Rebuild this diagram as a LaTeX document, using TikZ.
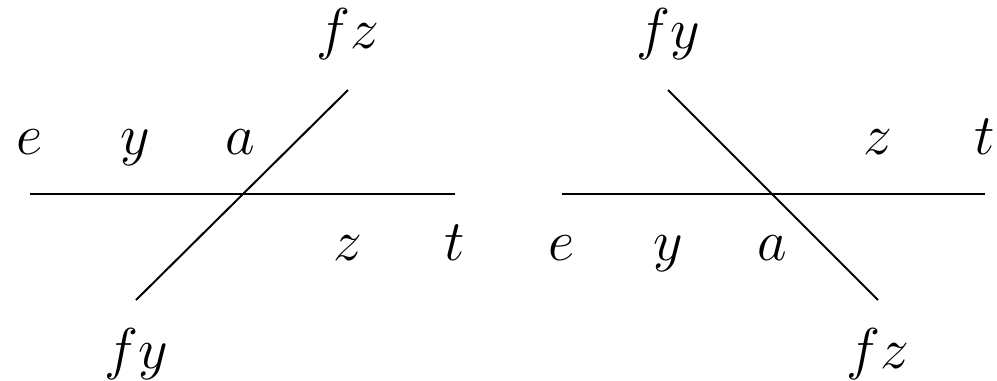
\documentclass[tikz,border=0pt]{standalone}
\begin{document}
\begin{tikzpicture}[x=0.25pt,y=-0.25pt,
  lab/.style={inner sep=0pt,anchor=base,font=\fontsize{13.5}{16}\selectfont},
  ln/.style={line width=0.5pt}]
\useasboundingbox (0,0) rectangle (997,380);
% left diagram
\coordinate (L1) at (30,194); \coordinate (L2) at (455,194);
\coordinate (D1) at (348,90); \coordinate (D2) at (136,300);
\draw[ln] (L1) -- (L2);
\draw[ln] (D1) -- (D2);
\node[lab] (le) at (30,154) {$e$};
\node[lab] (ly) at (135,154) {$y$};
\node[lab] (la) at (240,154) {$a$};
\node[lab] (lfz) at (348,48) {$fz$};
\node[lab] (lz) at (348,260) {$z$};
\node[lab] (lt) at (455,260) {$t$};
\node[lab] (lfy) at (136,368) {$fy$};
% right diagram
\coordinate (R1) at (562,194); \coordinate (R2) at (985,194);
\coordinate (E1) at (668,90); \coordinate (E2) at (878,300);
\draw[ln] (R1) -- (R2);
\draw[ln] (E1) -- (E2);
\node[lab] (rfy) at (668,48) {$fy$};
\node[lab] (rz) at (878,154) {$z$};
\node[lab] (rt) at (985,154) {$t$};
\node[lab] (re) at (562,260) {$e$};
\node[lab] (ry) at (668,260) {$y$};
\node[lab] (ra) at (772,260) {$a$};
\node[lab] (rfz) at (878,368) {$fz$};
\end{tikzpicture}
\end{document}
